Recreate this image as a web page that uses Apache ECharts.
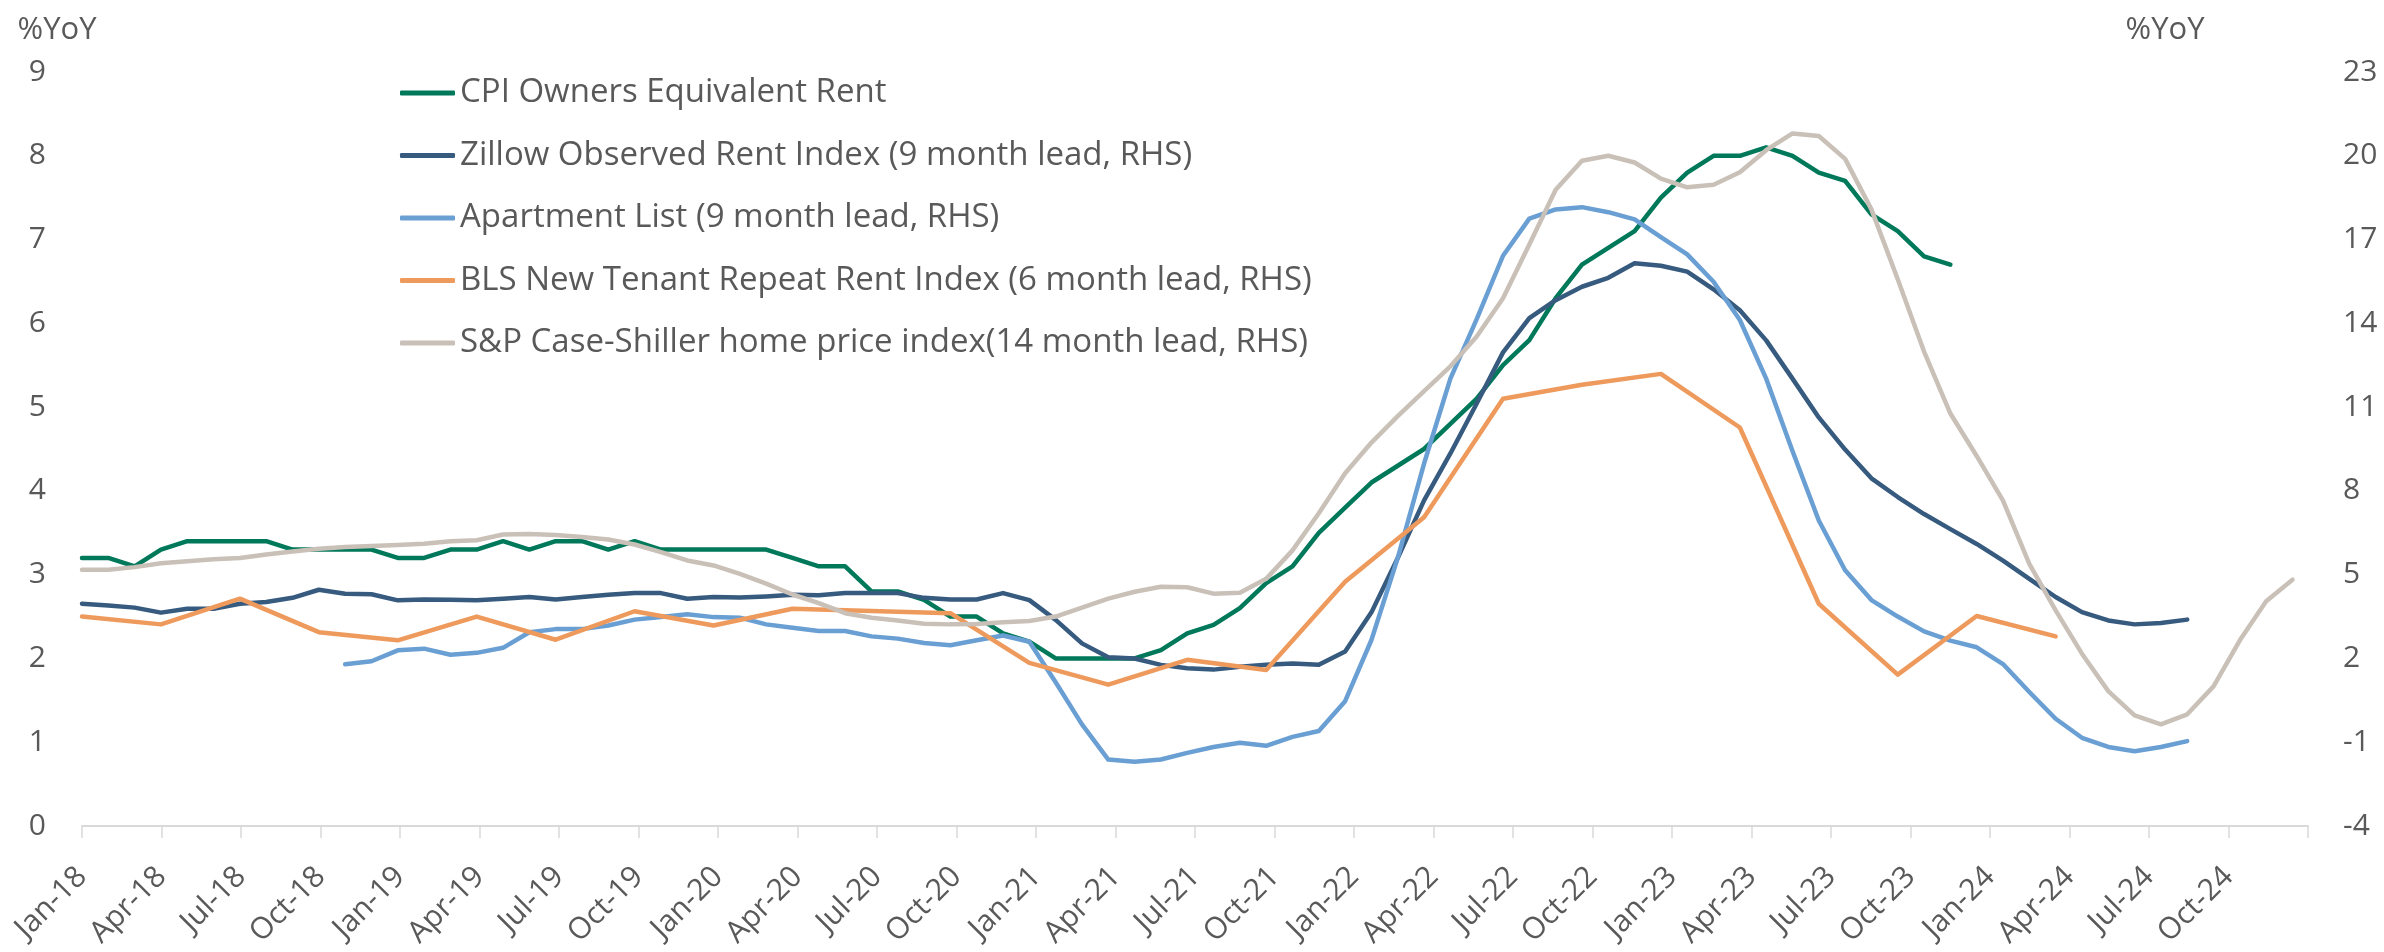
<!DOCTYPE html>
<html>
<head>
<meta charset="utf-8">
<title>Rents vs CPI OER</title>
<script src="https://cdn.jsdelivr.net/npm/echarts@6/dist/echarts.min.js"></script>
<style>
  html, body { margin: 0; padding: 0; background: #fff; }
  #chart { width: 2384px; height: 952px; }
</style>
</head>
<body>
<div id="chart"></div>
<script>
// months Jan-18 .. Jan-25
var monthNames = ['Jan','Feb','Mar','Apr','May','Jun','Jul','Aug','Sep','Oct','Nov','Dec'];
var months = [];
for (var y = 18; y <= 25; y++) {
  for (var m = 0; m < 12; m++) {
    if (y === 25 && m > 0) break;
    months.push(monthNames[m] + '-' + y);
  }
}

var leftTicks = { min: 0, max: 9, interval: 1 };
var rightTicks = { min: -4, max: 23, interval: 3 };
// monthly points run a touch short of the last date tick in the original
var dataAxisMax = 84.59;

// CPI owners equivalent rent, %YoY (LHS), Jan-18 .. Dec-23
var cpiOER = [
  3.2, 3.2, 3.1, 3.3, 3.4, 3.4, 3.4, 3.4, 3.3, 3.3, 3.3, 3.3,
  3.2, 3.2, 3.3, 3.3, 3.4, 3.3, 3.4, 3.4, 3.3, 3.4, 3.3, 3.3,
  3.3, 3.3, 3.3, 3.2, 3.1, 3.1, 2.8, 2.8, 2.7, 2.5, 2.5, 2.3,
  2.2, 2.0, 2.0, 2.0, 2.0, 2.1, 2.3, 2.4, 2.6, 2.9, 3.1, 3.5,
  3.8, 4.1, 4.3, 4.5, 4.8, 5.1, 5.5, 5.8, 6.3, 6.7, 6.9, 7.1,
  7.5, 7.8, 8.0, 8.0, 8.1, 8.0, 7.8, 7.7, 7.3, 7.1, 6.8, 6.7
];

// Zillow observed rent index, 9 month lead (RHS), Jan-18 .. Sep-24
var zillow = [
  3.96, 3.9, 3.82, 3.64, 3.78, 3.78, 3.96, 4.02, 4.17, 4.46, 4.32, 4.3,
  4.08, 4.11, 4.1, 4.08, 4.14, 4.2, 4.11, 4.2, 4.28, 4.34, 4.34, 4.14,
  4.2, 4.18, 4.22, 4.28, 4.26, 4.34, 4.34, 4.34, 4.17, 4.11, 4.11, 4.34,
  4.09, 3.38, 2.54, 2.04, 2.0, 1.77, 1.65, 1.6, 1.7, 1.77, 1.82, 1.77,
  2.25, 3.65, 5.6, 7.66, 9.34, 11.13, 12.96, 14.19, 14.83, 15.31, 15.63, 16.15,
  16.06, 15.85, 15.22, 14.47, 13.39, 12.02, 10.63, 9.48, 8.45, 7.78, 7.17, 6.63,
  6.1, 5.5, 4.85, 4.2, 3.66, 3.36, 3.22, 3.27, 3.39
];

// Apartment List, 9 month lead (RHS), Nov-18 .. Sep-24
var aptListStart = 10;
var aptList = [
  1.79, 1.9,
  2.29, 2.35, 2.13, 2.2, 2.38, 2.94, 3.05, 3.05, 3.18, 3.39, 3.48, 3.58,
  3.48, 3.46, 3.22, 3.1, 2.98, 2.98, 2.79, 2.71, 2.55, 2.47, 2.65, 2.82,
  2.6, 1.15, -0.36, -1.62, -1.7, -1.62, -1.38, -1.17, -1.02, -1.13, -0.81, -0.6,
  0.47, 2.66, 5.6, 8.98, 12.02, 14.15, 16.42, 17.75, 18.08, 18.16, 17.98, 17.72,
  17.09, 16.47, 15.49, 14.12, 12.02, 9.43, 6.94, 5.16, 4.09, 3.5, 2.97, 2.64,
  2.4, 1.8, 0.8, -0.16, -0.84, -1.17, -1.32, -1.17, -0.96
];

// BLS new tenant repeat rent index, 6 month lead (RHS), quarterly: Jan-18, Apr-18 .. Apr-24
var blsNTRR = [
  3.5, 3.22, 4.14, 2.94,
  2.65, 3.5, 2.67, 3.69,
  3.18, 3.78, 3.7, 3.62,
  1.84, 1.06, 1.95, 1.59,
  4.75, 7.06, 11.3, 11.8,
  12.19, 10.27, 3.96, 1.42,
  3.52, 2.79
];

// S&P Case-Shiller home price index, 14 month lead (RHS), Jan-18 .. Jan-25
var caseShiller = [
  5.18, 5.18, 5.27, 5.41, 5.48, 5.55, 5.6, 5.72, 5.83, 5.93, 5.99, 6.03,
  6.06, 6.11, 6.2, 6.23, 6.44, 6.46, 6.42, 6.35, 6.26, 6.08, 5.81, 5.51,
  5.33, 5.03, 4.68, 4.29, 3.98, 3.62, 3.46, 3.36, 3.24, 3.22, 3.23, 3.3,
  3.34, 3.5, 3.82, 4.14, 4.39, 4.57, 4.55, 4.32, 4.35, 4.85, 5.87, 7.2,
  8.63, 9.73, 10.68, 11.57, 12.46, 13.53, 14.9, 16.82, 18.78, 19.82, 20.0, 19.76,
  19.18, 18.87, 18.96, 19.41, 20.2, 20.8, 20.71, 19.89, 18.08, 15.58, 12.99, 10.77,
  9.25, 7.65, 5.39, 3.72, 2.17, 0.83, -0.04, -0.36, 0.0, 1.0, 2.65, 4.05,
  4.82
];

var seriesNames = [
  'CPI Owners Equivalent Rent',
  'Zillow Observed Rent Index (9 month lead, RHS)',
  'Apartment List (9 month lead, RHS)',
  'BLS New Tenant Repeat Rent Index (6 month lead, RHS)',
  'S&P Case-Shiller home price index(14 month lead, RHS)'
];
var colors = ['#00785A', '#375A7F', '#6A9FD4', '#EE9A5D', '#C9C0B8'];

// [month index, value] pairs
function pairs(values, start, step) {
  return values.map(function (v, k) { return [start + k * step, v]; });
}

var font = 'Open Sans';
var textColor = '#595959';

function lineSeries(name, data, axis, color) {
  return {
    name: name,
    type: 'line',
    xAxisIndex: 1,
    yAxisIndex: axis,
    data: data,
    showSymbol: false,
    symbol: 'none',
    smooth: false,
    lineStyle: { color: color, width: 4.5, cap: 'round', join: 'round' },
    itemStyle: { color: color },
    emphasis: { disabled: true }
  };
}

var chart = echarts.init(document.getElementById('chart'));
chart.setOption({
  animation: false,
  color: colors,
  grid: { left: 82, right: 76, top: 72, bottom: 126, containLabel: false },
  graphic: [
    { type: 'text', x: 57, y: 30, style: { text: '%YoY', align: 'center', verticalAlign: 'middle', fontSize: 31, fontFamily: font, fill: textColor } },
    { type: 'text', x: 2165, y: 30, style: { text: '%YoY', align: 'center', verticalAlign: 'middle', fontSize: 31, fontFamily: font, fill: textColor } }
  ],
  legend: {
    orient: 'vertical',
    left: 400,
    top: 75,
    padding: 0,
    itemWidth: 55,
    itemHeight: 5,
    itemGap: 26.5,
    icon: 'roundRect',
    textStyle: { fontSize: 33, lineHeight: 36, fontFamily: font, color: textColor },
    data: seriesNames
  },
  xAxis: [
    {
      type: 'category',
      data: months,
      boundaryGap: false,
      axisLine: { show: true, lineStyle: { color: '#D9D9D9', width: 2 } },
      axisTick: {
        show: true,
        length: 12,
        interval: function (index) { return index % 3 === 0; },
        lineStyle: { color: '#D9D9D9', width: 1.5 }
      },
      axisLabel: {
        interval: function (index) { return index % 3 === 0 && index < 84; },
        rotate: 45,
        margin: 46,
        fontSize: 30,
        fontFamily: font,
        color: textColor
      },
      splitLine: { show: false }
    },
    {
      type: 'value',
      show: false,
      min: 0,
      max: dataAxisMax,
      splitLine: { show: false }
    }
  ],
  yAxis: [
    {
      type: 'value',
      min: leftTicks.min,
      max: leftTicks.max,
      interval: leftTicks.interval,
      axisLine: { show: false },
      axisTick: { show: false },
      splitLine: { show: false },
      axisLabel: { margin: 36, fontSize: 30, fontFamily: font, color: textColor }
    },
    {
      type: 'value',
      position: 'right',
      min: rightTicks.min,
      max: rightTicks.max,
      interval: rightTicks.interval,
      axisLine: { show: false },
      axisTick: { show: false },
      splitLine: { show: false },
      axisLabel: { margin: 35, fontSize: 30, fontFamily: font, color: textColor }
    }
  ],
  series: [
    lineSeries(seriesNames[0], pairs(cpiOER, 0, 1), 0, colors[0]),
    lineSeries(seriesNames[1], pairs(zillow, 0, 1), 1, colors[1]),
    lineSeries(seriesNames[2], pairs(aptList, aptListStart, 1), 1, colors[2]),
    lineSeries(seriesNames[3], pairs(blsNTRR, 0, 3), 1, colors[3]),
    lineSeries(seriesNames[4], pairs(caseShiller, 0, 1), 1, colors[4])
  ]
});
</script>
</body>
</html>
